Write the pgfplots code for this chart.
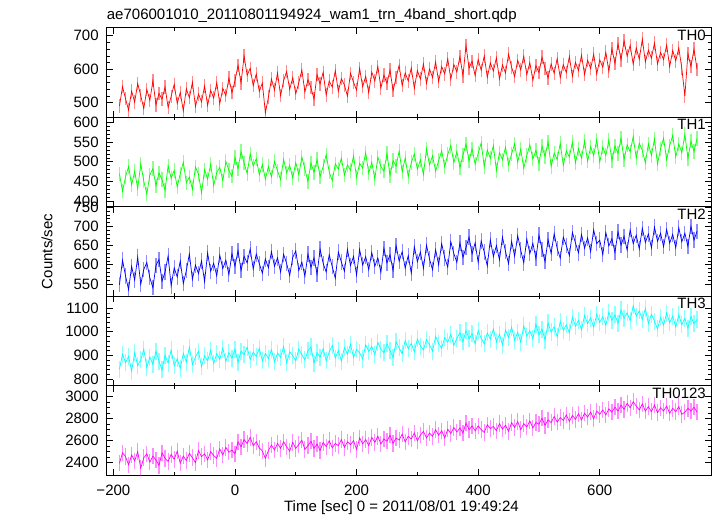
\documentclass[border=0pt]{standalone}
\usepackage{fontspec}
\setmainfont{Liberation Sans}
\usepackage{pgfplots}
\usepackage{pgfplotstable}
\pgfplotsset{compat=1.18}
\definecolor{qred}{rgb}{1,0,0}
\definecolor{qgreen}{rgb}{0,1,0}
\definecolor{qblue}{rgb}{0,0,1}
\definecolor{qcyan}{rgb}{0,1,1}
\definecolor{qmag}{rgb}{1,0,1}
\pgfplotstableread{
t r g b c m
-190 490 470 548 842 2395
-185 548 425 612 905 2490
-180 512 462 571 870 2455
-175 478 488 535 896 2380
-170 535 441 596 834 2470
-165 502 476 560 912 2415
-160 558 432 620 858 2500
-155 521 495 549 881 2350
-150 483 451 588 927 2445
-145 540 418 606 849 2480
-140 507 467 566 893 2405
-135 566 483 540 862 2460
-130 494 439 598 918 2425
-125 528 472 614 876 2375
-120 511 455 557 839 2490
-115 547 427 581 901 2440
-110 486 490 623 868 2410
-105 519 458 545 923 2475
-100 555 478 592 857 2430
-95 498 436 568 886 2505
-90 531 470 610 845 2395
-85 476 499 551 909 2460
-80 542 447 585 872 2420
-75 515 461 628 935 2485
-70 561 430 562 861 2445
-65 489 487 599 894 2400
-60 526 468 577 917 2510
-55 503 421 610 853 2455
-50 550 480 556 899 2480
-45 492 456 631 878 2425
-40 537 494 583 922 2500
-35 514 440 604 866 2465
-30 560 473 571 907 2440
-25 497 486 625 884 2525
-20 543 452 590 931 2470
-15 521 501 612 875 2540
-10 574 478 574 912 2495
-5 530 463 629 889 2515
0 566 511 596 926 2480
5 612 482 637 871 2590
10 559 526 585 918 2545
15 640 497 622 903 2610
20 582 470 605 935 2575
25 603 520 641 882 2630
30 551 489 589 914 2555
35 586 508 628 896 2590
40 534 467 603 930 2535
45 559 493 578 877 2505
50 470 456 615 908 2440
55 517 488 592 887 2510
60 571 462 634 924 2560
65 538 501 596 873 2515
70 589 477 618 910 2575
75 521 455 581 892 2530
80 566 506 627 938 2590
85 593 472 603 869 2545
90 540 491 572 915 2505
95 575 459 619 899 2585
100 527 498 636 878 2530
105 560 467 585 927 2565
110 598 512 607 904 2605
115 532 481 570 881 2520
120 569 450 628 920 2555
125 545 497 593 936 2595
130 511 473 618 868 2530
135 584 506 575 912 2570
140 556 462 641 893 2510
145 591 488 604 929 2585
150 523 518 581 877 2545
155 565 474 626 915 2600
160 547 452 595 942 2535
165 596 495 565 889 2575
170 534 481 633 921 2555
175 572 509 607 876 2610
180 553 466 583 934 2540
185 520 492 640 906 2590
190 588 478 598 948 2565
195 561 515 622 892 2600
200 538 460 573 926 2520
205 603 496 640 911 2625
210 548 484 599 885 2570
215 579 523 621 945 2610
220 530 471 587 917 2555
225 592 499 632 938 2630
230 565 456 596 903 2585
235 609 512 618 955 2640
240 544 488 580 926 2570
245 583 476 643 912 2615
250 557 521 605 949 2595
255 598 465 626 921 2650
260 536 503 585 891 2575
265 575 489 650 958 2625
270 612 527 609 932 2605
275 551 474 634 907 2660
280 589 510 591 963 2590
285 565 462 624 928 2640
290 604 498 578 951 2615
295 543 520 647 915 2670
300 596 481 608 970 2600
305 571 505 633 939 2650
310 616 468 591 924 2685
315 558 533 651 967 2625
320 601 492 615 945 2670
325 575 515 587 918 2640
330 622 476 639 981 2700
335 563 503 600 950 2650
340 608 528 655 931 2690
345 586 487 618 975 2625
350 631 519 594 957 2705
355 570 541 660 989 2665
360 614 498 629 943 2720
365 592 526 606 972 2680
370 638 485 657 996 2715
375 580 517 619 958 2670
380 671 545 645 1005 2760
385 603 502 672 971 2700
390 624 533 628 992 2735
395 581 494 657 949 2690
400 629 521 606 1004 2735
405 597 548 662 972 2700
410 640 487 633 949 2675
415 576 530 597 995 2745
420 619 509 665 969 2710
425 595 541 621 1012 2730
430 634 478 650 957 2690
435 571 523 613 990 2755
440 613 505 672 944 2705
445 589 537 634 1007 2740
450 645 492 603 975 2685
455 606 520 661 1020 2765
460 578 546 622 963 2720
465 627 499 676 998 2775
470 598 532 638 956 2700
475 639 484 605 1025 2755
480 584 516 667 982 2725
485 620 543 629 1004 2780
490 567 507 656 970 2715
495 611 529 616 1032 2765
500 590 495 677 987 2750
505 636 540 640 1011 2805
510 603 513 608 965 2740
515 574 551 666 1037 2790
520 616 488 629 999 2765
525 588 522 681 1021 2820
530 632 506 642 978 2770
535 575 547 617 1044 2810
540 614 491 672 1007 2785
545 590 528 650 1029 2835
550 638 512 624 996 2775
555 579 550 684 1062 2830
560 621 497 657 1024 2795
565 596 533 631 1048 2845
570 642 509 679 1008 2790
575 584 553 643 1069 2850
580 627 501 670 1035 2815
585 602 538 634 1058 2860
590 645 516 691 1019 2800
595 586 556 655 1074 2870
600 628 499 664 1040 2840
605 606 537 626 1063 2880
610 651 516 684 1027 2835
615 593 555 649 1083 2890
620 662 503 668 1049 2860
625 617 540 632 1071 2905
630 676 521 686 1036 2870
635 628 560 651 1092 2925
640 685 505 674 1058 2885
645 639 543 638 1080 2940
650 671 525 691 1047 2900
655 615 564 655 1110 2955
660 664 509 677 1066 2915
665 630 547 641 1088 2880
670 690 529 695 1052 2935
675 622 497 658 1098 2870
680 657 546 680 1035 2910
685 633 516 644 1074 2865
690 678 558 698 1045 2925
695 616 494 661 1012 2855
700 650 533 682 1060 2900
705 629 560 647 1028 2870
710 672 505 692 1079 2915
715 608 541 656 1038 2850
720 656 567 679 1066 2895
725 625 512 644 1020 2865
730 664 545 696 1071 2910
735 602 523 660 1030 2840
740 520 570 682 1058 2860
745 647 508 648 1015 2895
750 608 552 700 1064 2870
755 660 526 664 1034 2905
760 600 559 687 1052 2860
}\lc
\pgfplotsset{panel/.style={
  scale only axis, width=604.3pt, height=89.52pt,
  anchor=south west,
  xmin=-211, xmax=783,
  xtick={-200,0,200,400,600}, minor x tick num=1,
  xticklabels={},
  tick align=inside, tick pos=both,
  major tick length=6pt, minor tick length=3pt,
  every tick/.style={black, line width=0.6pt},
  axis line style={line width=0.9pt},
  font=\fontsize{15}{18}\selectfont,
  /pgf/number format/assume math mode=true,
  /pgf/number format/1000 sep={},
  scaled ticks=false,
  yticklabel style={xshift=-4.5pt},
  clip mode=individual,
  every axis plot/.append style={line width=0.7pt},
},
ebar/.style={error bars/.cd, y dir=both, y fixed=#1, error mark=none,
  error bar style={opacity=0.45, line width=1.2pt}}}
\begin{document}
\begin{tikzpicture}
\useasboundingbox (-106.7pt,-40.7pt) rectangle (610.3pt,475.3pt);
% TH0
\begin{axis}[panel, at={(0pt,358.08pt)}, ymin=457, ymax=724,
  ytick={500,600,700}, minor y tick num=4]
\addplot[qred, ebar=20] table[x=t,y=r]{\lc};
\node[anchor=north east, inner sep=0pt] at ([xshift=-5pt,yshift=-2pt]rel axis cs:1,1) {TH0};
\node[anchor=base west, inner sep=0pt] at ([yshift=8.5pt]rel axis cs:0,1) {ae706001010\_20110801194924\_wam1\_trn\_4band\_short.qdp};
\end{axis}
% TH1
\begin{axis}[panel, at={(0pt,268.56pt)}, ymin=386, ymax=613,
  ytick={400,450,500,550,600}, minor y tick num=4]
\addplot[qgreen, ebar=18] table[x=t,y=g]{\lc};
\node[anchor=north east, inner sep=0pt] at ([xshift=-5pt,yshift=-2pt]rel axis cs:1,1) {TH1};
\end{axis}
% TH2
\begin{axis}[panel, at={(0pt,179.04pt)}, ymin=518, ymax=751,
  ytick={550,600,650,700,750}, minor y tick num=4]
\addplot[qblue, ebar=20] table[x=t,y=b]{\lc};
\node[anchor=north east, inner sep=0pt] at ([xshift=-5pt,yshift=-2pt]rel axis cs:1,1) {TH2};
\node[rotate=90, anchor=center] at ([xshift=-59.7pt]rel axis cs:0,0.5) {Counts/sec};
\end{axis}
% TH3
\begin{axis}[panel, at={(0pt,89.52pt)}, ymin=772, ymax=1150,
  ytick={800,900,1000,1100}, minor y tick num=4]
\addplot[qcyan, ebar=36] table[x=t,y=c]{\lc};
\node[anchor=north east, inner sep=0pt] at ([xshift=-5pt,yshift=-2pt]rel axis cs:1,1) {TH3};
\end{axis}
% TH0123
\begin{axis}[panel, at={(0pt,0pt)}, ymin=2285, ymax=3100,
  ytick={2400,2600,2800,3000}, minor y tick num=3,
  xticklabels={\char"2212 200,0,200,400,600},
  xticklabel style={anchor=base, yshift=-20.7pt}]
\addplot[qmag, ebar=75] table[x=t,y=m]{\lc};
\node[anchor=north east, inner sep=0pt] at ([xshift=-5pt,yshift=-2pt]rel axis cs:1,1) {TH0123};
\node[anchor=base, inner sep=0pt] at ([xshift=294.8pt,yshift=-36.7pt]rel axis cs:0,0) {Time [sec] 0 = 2011/08/01 19:49:24};
\end{axis}
\end{tikzpicture}
\end{document}
